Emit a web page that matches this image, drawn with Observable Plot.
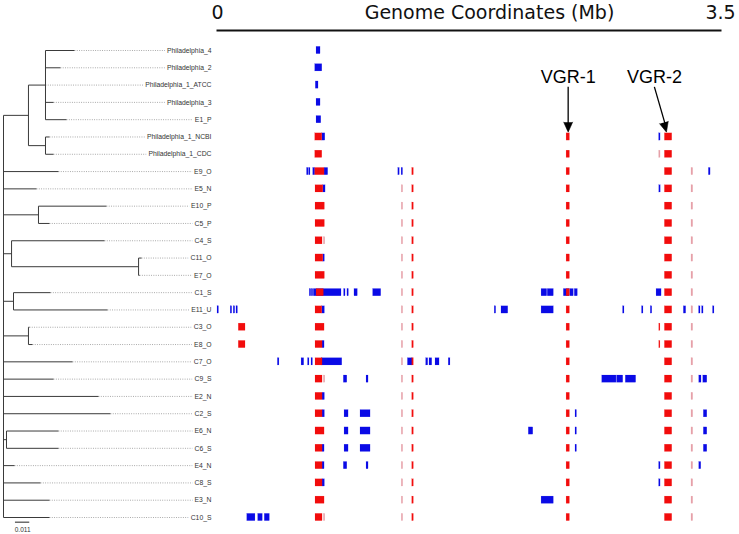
<!DOCTYPE html>
<html><head><meta charset="utf-8">
<script src="https://cdn.jsdelivr.net/npm/d3@7"></script>
<script src="https://cdn.jsdelivr.net/npm/@observablehq/plot@0.6"></script>
<style>
body{margin:0;background:#fff;}
#chart{position:relative;width:739px;height:534px;overflow:hidden;}
#chart svg{position:absolute;left:0;top:0;}
</style></head><body><div id="chart"></div>
<script>
// ---------- data ----------
const strains = ["Philadelphia_4","Philadelphia_2","Philadelphia_1_ATCC","Philadelphia_3","E1_P",
  "Philadelphia_1_NCBI","Philadelphia_1_CDC","E9_O","E5_N","E10_P","C5_P","C4_S","C11_O","E7_O",
  "C1_S","E11_U","C3_O","E8_O","C7_O","C9_S","E2_N","C2_S","E6_N","C6_S","E4_N","C8_S","E3_N","C10_S"];

const treeNewick = "(((Philadelphia_4:0.0223,Philadelphia_2:0.0115,Philadelphia_1_ATCC:0,Philadelphia_3:0.0062,E1_P:0.0162):0.0131,(Philadelphia_1_NCBI:0.0031,Philadelphia_1_CDC:0.0062):0.0131):0.0192,E9_O:0.0423,E5_N:0.0254,(E10_P:0.0523,C5_P:0.0085):0.0269,(C4_S:0.0715,(C11_O:0.0023,E7_O:0.0008):0.0977):0.0062,(C1_S:0.0285,E11_U:0.0723):0.0077,(C3_O:0.0008,E8_O:0.0031):0.0192,C7_O:0.0531,C9_S:0.0385,E2_N:0.0731,C2_S:0.0823,(E6_N:0.04,C6_S:0.04):0.0023,E4_N:0.0085,C8_S:0.0285,E3_N:0.0354,C10_S:0.0354);";
const scaleBarLength = 0.011;
const scaleBarLabel = "0.011";

const axisTicks = [0, 3.5];
const axisTitle = "Genome Coordinates (Mb)";

// genome segments in Mb: [strain, start, end]
const blueSegments = [
  ["Philadelphia_4",0.689,0.717],["Philadelphia_2",0.680,0.729],["Philadelphia_1_ATCC",0.684,0.703],
  ["Philadelphia_3",0.689,0.717],["E1_P",0.689,0.722],
  ["Philadelphia_1_NCBI",0.729,0.750],["Philadelphia_1_NCBI",3.073,3.083],
  ["E9_O",0.623,0.633],["E9_O",0.637,0.647],["E9_O",0.666,0.680],["E9_O",0.745,0.770],
  ["E9_O",1.258,1.268],["E9_O",1.281,1.291],["E9_O",3.419,3.431],
  ["E5_N",0.736,0.752],["E5_N",3.074,3.084],
  ["C11_O",0.736,0.747],
  ["C1_S",0.642,0.652],["C1_S",0.656,0.666],["C1_S",0.670,0.863],["C1_S",0.881,0.891],["C1_S",0.904,0.914],
  ["C1_S",0.953,0.976],["C1_S",1.083,1.139],["C1_S",2.255,2.294],["C1_S",2.298,2.340],["C1_S",2.410,2.452],
  ["C1_S",2.456,2.479],["C1_S",2.486,2.507],["C1_S",3.055,3.090],
  ["E11_U",0.000,0.010],["E11_U",0.092,0.102],["E11_U",0.113,0.123],["E11_U",0.132,0.142],["E11_U",0.729,0.747],
  ["E11_U",1.929,1.939],["E11_U",1.976,2.023],["E11_U",2.255,2.340],["E11_U",2.822,2.832],["E11_U",2.954,2.964],
  ["E11_U",3.015,3.025],["E11_U",3.245,3.261],["E11_U",3.351,3.361],["E11_U",3.372,3.382],["E11_U",3.448,3.458],
  ["E8_O",0.731,0.745],
  ["C7_O",0.420,0.431],["C7_O",0.585,0.603],["C7_O",0.630,0.640],["C7_O",0.654,0.664],["C7_O",0.725,0.868],
  ["C7_O",1.325,1.359],["C7_O",1.452,1.466],["C7_O",1.475,1.494],["C7_O",1.517,1.545],["C7_O",1.609,1.621],
  ["C9_S",0.879,0.903],["C9_S",1.037,1.051],["C9_S",2.677,2.776],["C9_S",2.780,2.823],["C9_S",2.841,2.913],
  ["C9_S",3.352,3.368],["C9_S",3.380,3.408],
  ["E2_N",0.731,0.747],
  ["C2_S",0.731,0.747],["C2_S",0.884,0.912],["C2_S",0.995,1.065],["C2_S",2.491,2.501],["C2_S",3.384,3.408],
  ["E6_N",0.884,0.912],["E6_N",0.995,1.065],["E6_N",2.166,2.197],["E6_N",2.491,2.501],["E6_N",3.384,3.408],
  ["C6_S",0.731,0.745],["C6_S",0.884,0.912],["C6_S",0.995,1.065],["C6_S",2.491,2.501],["C6_S",3.384,3.408],
  ["E4_N",0.731,0.745],["E4_N",0.879,0.903],["E4_N",1.037,1.051],["E4_N",3.073,3.083],["E4_N",3.352,3.366],
  ["C8_S",0.731,0.747],["C8_S",3.073,3.083],
  ["E3_N",2.255,2.340],
  ["C10_S",0.207,0.264],["C10_S",0.283,0.315],["C10_S",0.329,0.364]
];
const redSegments = [
  ["Philadelphia_1_NCBI",0.680,0.729],["Philadelphia_1_CDC",0.680,0.729],["E9_O",0.680,0.745],
  ["E5_N",0.682,0.736],["E10_P",0.682,0.747],["C5_P",0.682,0.747],["C4_S",0.682,0.731],
  ["C11_O",0.682,0.736],["E7_O",0.682,0.747],["C1_S",0.689,0.740],["E11_U",0.682,0.729],
  ["C3_O",0.148,0.195],["C3_O",0.682,0.745],["C3_O",3.074,3.082],
  ["E8_O",0.148,0.195],["E8_O",0.682,0.731],["E8_O",3.074,3.082],
  ["C7_O",0.682,0.731],["C9_S",0.682,0.731],["E2_N",0.682,0.731],["C2_S",0.682,0.731],
  ["E6_N",0.682,0.745],["C6_S",0.682,0.731],["E4_N",0.682,0.731],["C8_S",0.682,0.731],
  ["E3_N",0.682,0.745],["C10_S",0.682,0.731]
];
const pinkSegments = [
  ["C4_S",0.740,0.750],["C9_S",0.740,0.750],["C10_S",0.740,0.750],["Philadelphia_1_CDC",3.073,3.083]
];
// features present in every row from a given strain downwards
const sharedRed = [
  {start:1.355, end:1.366, from:"E9_O"},
  {start:2.429, end:2.452, from:"Philadelphia_1_NCBI"},
  {start:3.113, end:3.164, from:"Philadelphia_1_NCBI"}
];
const sharedPink = [
  {start:1.282, end:1.292, from:"E5_N"},
  {start:3.298, end:3.310, from:"E9_O"}
];
const annotations = [
  {label:"VGR-1", fromMb:2.440, toMb:2.440},
  {label:"VGR-2", fromMb:3.040, toMb:3.124}
];

// ---------- build ----------
const rowOf = name => strains.indexOf(name);
const expand = (list) => list.flatMap(f => strains.slice(rowOf(f.from)).map(s => [s, f.start, f.end]));
const blue = blueSegments;
const red = redSegments.concat(expand(sharedRed));
const pink = pinkSegments.concat(expand(sharedPink));

function parseNewick(s){
  let i = 0;
  function node(){
    const n = {children: []};
    if (s[i] === "("){
      i++;
      n.children.push(node());
      while (s[i] === ","){ i++; n.children.push(node()); }
      i++;
    }
    let name = "";
    while (i < s.length && !":,();".includes(s[i])) name += s[i++];
    n.name = name;
    n.length = 0;
    if (s[i] === ":"){
      i++; let len = "";
      while (i < s.length && !",();".includes(s[i])) len += s[i++];
      n.length = +len;
    }
    return n;
  }
  return node();
}
const root = parseNewick(treeNewick);
const hBranches = [], vBranches = [], leaves = [];
(function layout(n, depth){
  n.depth = depth;
  if (!n.children.length){ n.y = rowOf(n.name); leaves.push(n); return; }
  n.children.forEach(c => layout(c, depth + c.length));
  const ys = n.children.map(c => c.y);
  n.y = (ys[0] + ys[ys.length-1]) / 2;
  vBranches.push({x: depth, y1: ys[0], y2: ys[ys.length-1]});
  n.children.forEach(c => hBranches.push({x1: depth, x2: c.depth, y: c.y}));
})(root, 0);

const labelDepth = 0.16;
const lastRow = strains.length - 1;
const yRange = [50, 517];
const sans = "'Liberation Sans', Arial, sans-serif";

const treePlot = Plot.plot({
  width: 739, height: 534, margin: 0,
  style: {background: "transparent"},
  x: {domain: [0, labelDepth], range: [3, 211], axis: null},
  y: {domain: [0, lastRow], range: yRange, axis: null},
  marks: [
    Plot.link(leaves, {x1: d => d.depth, x2: () => labelDepth, y1: "y", y2: "y",
      stroke: "#8a8a8a", strokeWidth: 0.8, strokeDasharray: "0.9,1.4"}),
    Plot.link(hBranches, {x1: "x1", x2: "x2", y1: "y", y2: "y", stroke: "#3a3a3a", strokeWidth: 1}),
    Plot.link(vBranches, {x1: "x", x2: "x", y1: "y1", y2: "y2", stroke: "#3a3a3a", strokeWidth: 1}),
    Plot.text(leaves, {x: () => labelDepth, y: "y", text: "name", textAnchor: "end",
      fontSize: 6.8, fontFamily: sans, fill: "#333", stroke: "white", strokeWidth: 5, paintOrder: "stroke"}),
    Plot.ruleY([lastRow + 0.27], {x1: 0.0092, x2: 0.0092 + scaleBarLength, stroke: "#222", strokeWidth: 1}),
    Plot.text([scaleBarLabel], {x: 0.0092 + scaleBarLength / 2, y: lastRow + 0.7, text: d => d,
      fontSize: 6.5, fontFamily: sans, fill: "#333"})
  ]
});

const xs = d3.scaleLinear([0, 3.5], [217, 720]);
const ys = d3.scaleLinear([0, lastRow], yRange);
const arrowFrom = 2.1, arrowTo = 4.72, labelBase = 1.89;
const heads = annotations.map(a => {
  const dx = xs(a.toMb) - xs(a.fromMb), dy = ys(arrowTo) - ys(arrowFrom);
  return {...a, angle: Math.atan2(dx, -dy) * 180 / Math.PI};
});
const h = 0.21;
const segRect = (data, fill) => Plot.rect(data, {x1: d => d[1], x2: d => d[2],
  y1: d => rowOf(d[0]) - h, y2: d => rowOf(d[0]) + h, fill, stroke: fill, strokeWidth: 0.3, strokeOpacity: 0.4});

const genomePlot = Plot.plot({
  width: 739, height: 534, marginLeft: 217, marginRight: 19, marginTop: 30, marginBottom: 0,
  style: {background: "transparent"},
  x: {domain: [0, 3.5], axis: null},
  y: {domain: [0, lastRow], range: yRange, axis: null},
  marks: [
    Plot.frame({anchor: "top", strokeWidth: 2, stroke: "#111"}),
    Plot.text(axisTicks, {x: d => d, frameAnchor: "top", text: d => String(d), lineAnchor: "bottom", dy: -12,
      fontSize: 19, fontFamily: "'DejaVu Sans', Verdana, sans-serif", fill: "#111"}),
    Plot.text([axisTitle], {frameAnchor: "top", text: d => d, lineAnchor: "bottom", dx: 20.5, dy: -12,
      fontSize: 19, fontFamily: "'DejaVu Sans', Verdana, sans-serif", fill: "#111"}),
    segRect(blue, "#0a0ae6"),
    segRect(pink, "#e6a1a9"),
    segRect(red, "#f20c0c"),
    Plot.link(annotations, {x1: "fromMb", x2: "toMb", y1: () => arrowFrom, y2: () => arrowTo - 0.2,
      stroke: "#000", strokeWidth: 1.3}),
    Plot.vector(heads, {x: "toMb", y: () => arrowTo, rotate: "angle", length: 10, r: 4.5,
      shape: "spike", anchor: "end", fill: "#000", stroke: "#000", strokeWidth: 0.5}),
    Plot.text(annotations, {x: "fromMb", y: () => labelBase, text: "label", lineAnchor: "bottom",
      fontSize: 18, fontFamily: sans, fill: "#000"})
  ]
});

const chart = document.getElementById("chart");
chart.append(treePlot, genomePlot);
</script></body></html>
